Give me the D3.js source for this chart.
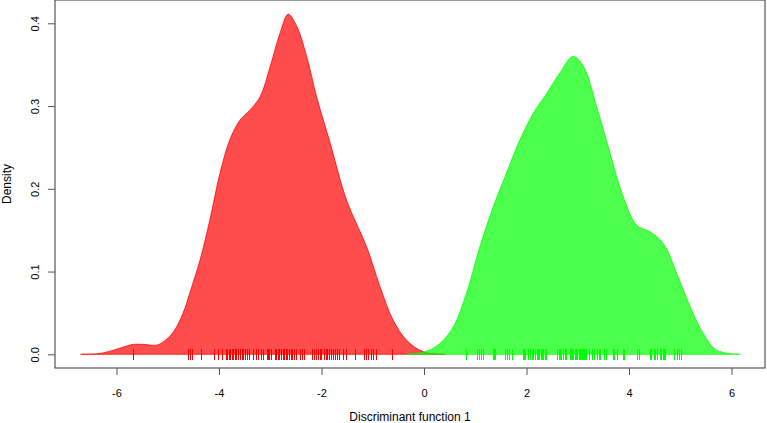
<!DOCTYPE html>
<html>
<head>
<meta charset="utf-8">
<script src="https://cdn.jsdelivr.net/npm/d3@7"></script>
<style>
  html, body { margin: 0; padding: 0; background: #fff; }
  svg { display: block; font-family: "Liberation Sans", Arial, Helvetica, sans-serif; }
</style>
</head>
<body>
<svg id="chart" width="767" height="423"></svg>
<script>
// Density curve of group 1 (red): x values and densities
const redX = [-6.70, -6.32, -6.06, -5.80, -5.67, -5.48, -5.22, -5.09, -4.89, -4.70, -4.57, -4.37, -4.18, -3.98, -3.79, -3.59, -3.40, -3.20, -3.00, -2.81, -2.65, -2.48, -2.29, -2.09, -1.83, -1.51, -1.12, -0.86, -0.60, -0.34, -0.01, 0.41];
const redY = [0, 0.001, 0.005, 0.010, 0.012, 0.012, 0.011, 0.015, 0.027, 0.050, 0.074, 0.114, 0.162, 0.219, 0.259, 0.283, 0.295, 0.311, 0.348, 0.388, 0.411, 0.396, 0.360, 0.310, 0.255, 0.186, 0.130, 0.082, 0.041, 0.017, 0.003, 0];

// Density curve of group 2 (green)
const greenX = [-0.34, 0.02, 0.31, 0.57, 0.83, 1.09, 1.35, 1.61, 1.87, 2.13, 2.39, 2.65, 2.91, 3.11, 3.37, 3.63, 3.89, 4.15, 4.41, 4.67, 4.93, 5.19, 5.45, 5.71, 6.17];
const greenY = [0, 0.003, 0.013, 0.033, 0.074, 0.130, 0.178, 0.219, 0.259, 0.291, 0.315, 0.340, 0.360, 0.348, 0.299, 0.243, 0.190, 0.156, 0.148, 0.134, 0.098, 0.058, 0.025, 0.005, 0];

// Rug (individual observations)
const redRug = [-5.67, -4.61, -4.57, -4.52, -4.36, -4.09, -4.01, -3.95,
  -3.87, -3.84, -3.81, -3.78, -3.75, -3.72, -3.69, -3.66, -3.63, -3.60, -3.56, -3.53, -3.49, -3.45, -3.41,
  -3.34, -3.27, -3.23, -3.18, -3.14, -3.06, -3.04, -3.02, -2.99,
  -2.91, -2.88, -2.85, -2.82, -2.79, -2.76, -2.73, -2.70, -2.67, -2.64, -2.60, -2.57, -2.53,
  -2.49, -2.42, -2.39, -2.35,
  -2.18, -2.14, -2.11, -2.07, -2.03, -2.00, -1.96, -1.92, -1.89, -1.85, -1.81, -1.77, -1.74, -1.70, -1.66,
  -1.59, -1.52, -1.35, -1.18, -1.13, -1.09, -1.04, -1.00, -0.94, -0.63];
const greenRug = [0.81, 1.03, 1.07, 1.11, 1.16, 1.35, 1.37, 1.39, 1.58, 1.61, 1.65, 1.72,
  1.93, 1.95, 1.98, 2.02, 2.06, 2.10, 2.13, 2.17, 2.20, 2.22, 2.25, 2.28, 2.30, 2.33, 2.36, 2.39,
  2.60, 2.63, 2.65, 2.68, 2.72, 2.75, 2.78, 2.85, 2.87, 2.89, 2.91, 2.94, 2.97, 2.99, 3.02, 3.04,
  3.06, 3.08, 3.10, 3.12, 3.15, 3.17, 3.21, 3.27, 3.31, 3.37, 3.41, 3.43, 3.51, 3.55, 3.56,
  3.68, 3.71, 3.76, 3.88, 3.90, 4.16, 4.20, 4.40, 4.42, 4.48, 4.50, 4.54, 4.61, 4.63, 4.66,
  4.68, 4.71, 4.88, 4.93, 4.97, 5.01];

const xTicks = [-6, -4, -2, 0, 2, 4, 6];
const yTicks = [0.0, 0.1, 0.2, 0.3, 0.4];
const xTitle = "Discriminant function 1";
const yTitle = "Density";

const svg = d3.select("#chart");
const box = { left: 55, right: 765, top: 0, bottom: 368 };

const x = d3.scaleLinear().domain([0, 6]).range([424, 731.5]);
const y = d3.scaleLinear().domain([0, 0.4]).range([354.3, 23.3]);

// densities
function drawDensity(xs, ys, col) {
  const pts = xs.map((v, i) => [v, ys[i]]);
  const area = d3.area()
    .x(d => x(d[0])).y0(y(0)).y1(d => y(Math.max(0, d[1])))
    .curve(d3.curveCatmullRom.alpha(0.5));
  svg.append("path").datum(pts)
    .attr("d", area)
    .attr("fill", col).attr("fill-opacity", 0.7)
    .attr("stroke", col).attr("stroke-opacity", 0.75).attr("stroke-width", 1);
}
drawDensity(redX, redY, "#ff0000");
drawDensity(greenX, greenY, "#00ff00");

// rugs
function drawRug(vals, col) {
  svg.append("g").selectAll("line").data(vals).enter().append("line")
    .attr("x1", d => Math.round(x(d)) + 0.5).attr("x2", d => Math.round(x(d)) + 0.5)
    .attr("y1", 349).attr("y2", 360)
    .attr("stroke", col).attr("stroke-width", 1);
}
drawRug(redRug, "#ff0000");
drawRug(greenRug, "#00ff00");

// frame
svg.append("rect")
  .attr("x", box.left).attr("y", box.top)
  .attr("width", box.right - box.left).attr("height", box.bottom - box.top)
  .attr("fill", "none").attr("stroke", "#333").attr("stroke-width", 1);

// x axis
const xAxis = d3.axisBottom(x).tickValues(xTicks).tickSize(7).tickPadding(14)
  .tickFormat(d3.format("d"));
const gx = svg.append("g").attr("transform", `translate(0,${box.bottom})`).call(xAxis);
gx.select(".domain").remove();
gx.selectAll("line").attr("stroke", "#555");
gx.selectAll("text").attr("font-size", 11).attr("fill", "#000")
  .attr("font-family", "'Liberation Sans', Arial, sans-serif")
  .text(d => d < 0 ? "-" + Math.abs(d) : String(d));

// y axis
const yAxis = d3.axisLeft(y).tickValues(yTicks).tickSize(7).tickFormat(d3.format(".1f"));
const gy = svg.append("g").attr("transform", `translate(${box.left},0)`).call(yAxis);
gy.select(".domain").remove();
gy.selectAll("line").attr("stroke", "#555");
gy.selectAll("text").remove();
gy.selectAll(".tick").append("text")
  .attr("transform", "translate(-16,0) rotate(-90)")
  .attr("text-anchor", "middle")
  .attr("font-size", 11).attr("fill", "#000")
  .attr("font-family", "'Liberation Sans', Arial, sans-serif")
  .text(d => d3.format(".1f")(d));

// titles
svg.append("text").attr("x", (box.left + box.right) / 2).attr("y", 421)
  .attr("text-anchor", "middle").attr("font-size", 12).attr("fill", "#000")
  .text(xTitle);
svg.append("text").attr("transform", `translate(11,${(box.top + box.bottom) / 2}) rotate(-90)`)
  .attr("text-anchor", "middle").attr("font-size", 12).attr("fill", "#000")
  .text(yTitle);
</script>
</body>
</html>
